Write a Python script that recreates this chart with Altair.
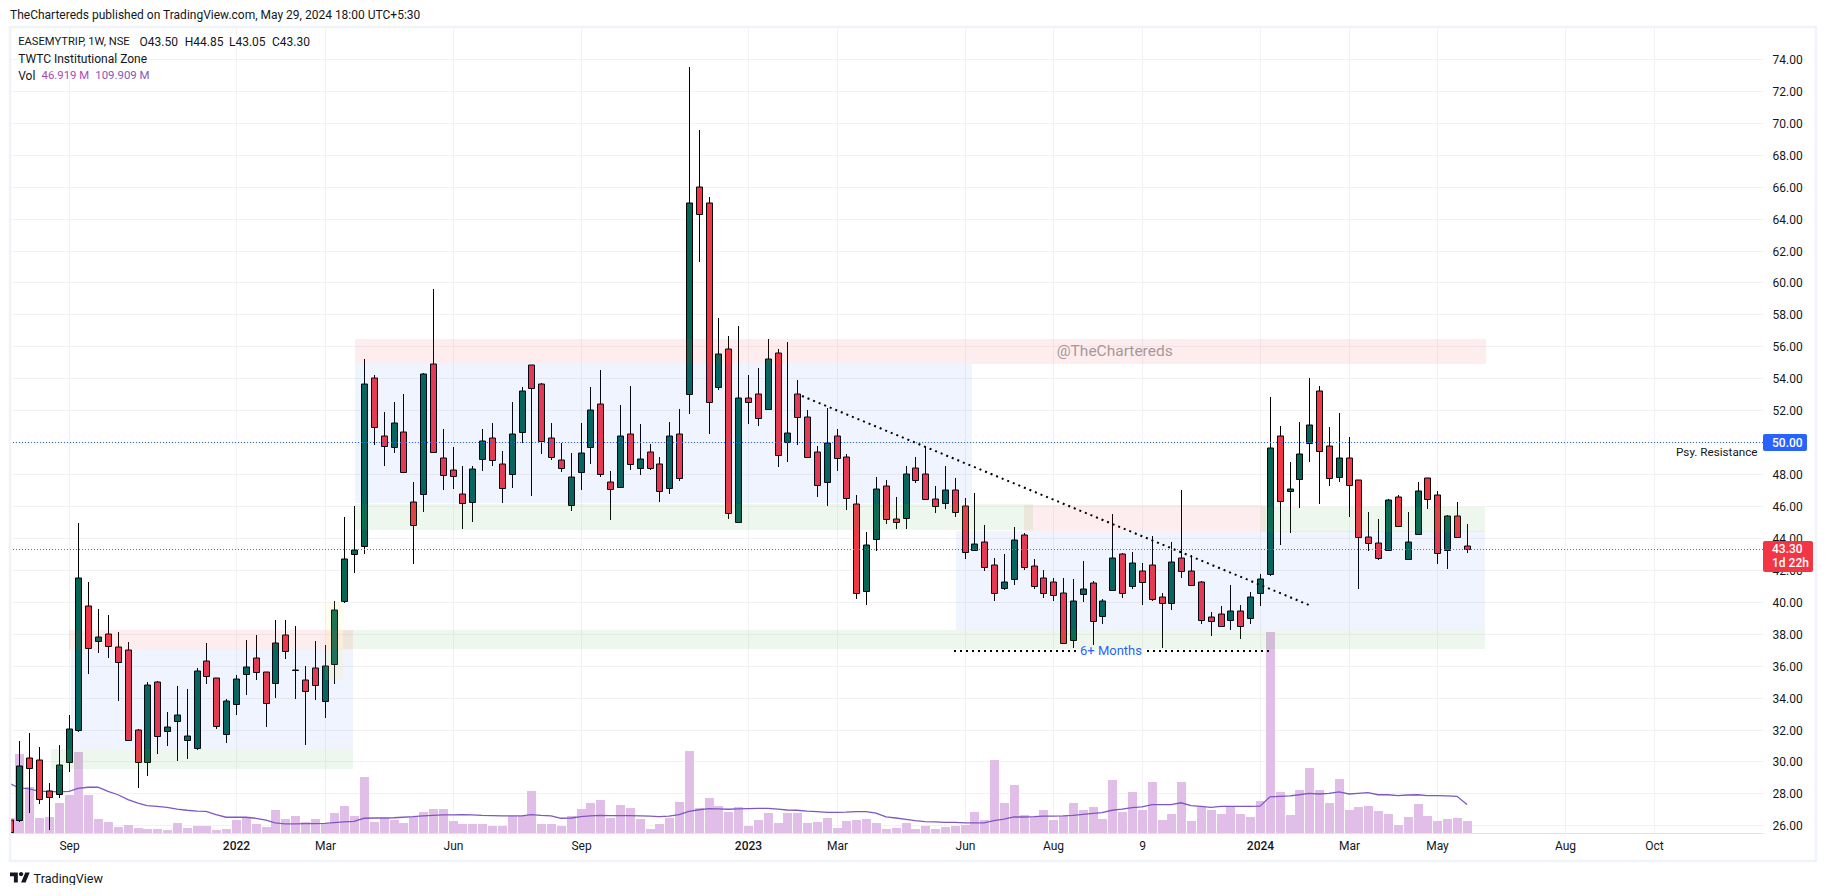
import pandas as pd
import altair as alt

# weekly candles
opens = [26.33,26.33,30.21,30.08,28.13,27.96,29.96,32.0,39.75,37.56,37.96,37.15,36.96,31.94,29.96,34.96,31.9,32.52,31.33,30.83,
         36.27,35.21,31.71,33.58,35.46,36.46,35.58,34.9,37.9,35.72,35.08,35.83,33.77,36.08,40.08,43.0,43.5,54.02,50.4,49.7,
         50.65,46.27,46.77,54.9,49.02,48.27,46.77,46.25,48.94,50.25,48.65,48.0,50.63,54.83,53.65,50.27,48.9,46.06,48.15,49.67,
         52.4,47.52,47.2,50.5,48.38,49.38,48.63,47.13,50.5,53.0,66.0,65.0,53.48,55.81,45.02,52.75,53.0,52.06,55.6,49.98,
         53.0,51.56,49.38,47.5,50.38,49.06,46.15,40.67,43.94,47.27,45.21,45.25,48.38,48.0,46.44,46.21,47.02,46.02,43.27,43.77,
         42.33,40.88,41.44,44.21,42.27,41.52,41.21,40.58,37.58,40.46,41.15,39.08,40.71,43.02,41.02,41.96,42.33,40.27,39.9,42.77,
         41.9,41.27,39.05,39.21,38.88,39.45,39.0,40.52,41.71,50.4,46.95,47.69,49.95,53.2,49.78,47.81,49.02,47.64,44.08,43.7,
         43.23,46.57,42.7,44.27,47.76,46.72,43.23,45.39,43.5]
highs = [26.4,31.29,31.79,30.92,28.63,31.02,32.9,44.92,41.23,39.52,39.2,38.1,37.46,32.06,34.98,35.02,33.1,34.73,34.54,35.85,
         37.42,35.21,33.9,35.4,37.6,37.92,35.6,38.85,38.85,38.48,35.96,37.52,37.27,40.04,45.33,46.02,55.21,54.2,51.9,52.54,
         53.04,47.48,54.33,59.58,50.8,49.67,48.5,48.5,50.83,51.2,49.42,52.52,53.46,54.83,53.7,51.2,49.96,49.35,51.17,53.46,
         54.54,48.17,52.33,53.52,51.15,49.9,49.06,51.25,52.06,73.52,69.52,65.33,57.77,56.65,57.27,54.2,54.67,56.46,55.83,56.27,
         53.9,52.02,49.77,52.13,50.83,49.25,46.71,44.38,47.79,47.65,46.54,48.48,49.1,49.77,47.25,48.52,47.77,46.52,46.83,44.83,
         42.77,43.02,44.71,44.33,42.65,42.02,41.52,41.46,41.4,42.58,41.33,40.15,45.52,43.08,43.15,42.46,44.15,40.58,43.73,47.02,
         42.96,41.33,39.33,39.73,41.04,39.8,40.59,41.71,52.8,50.99,48.74,51.23,53.99,53.53,50.92,51.85,50.35,47.64,45.6,45.2,
         46.43,46.72,45.6,47.52,47.76,46.95,45.46,46.24,44.85]
lows = [25.55,26.2,26.75,27.31,25.71,27.69,29.35,31.85,35.5,36.81,36.5,33.81,31.33,28.31,29.1,30.44,30.98,30.0,30.17,30.69,
        34.85,32.06,31.17,32.92,34.17,35.13,32.19,34.0,36.44,33.94,31.06,33.88,32.75,34.85,39.94,41.81,43.0,49.85,48.48,49.3,
        48.06,42.38,45.6,49.3,47.0,47.06,44.56,44.98,48.17,48.48,46.17,47.1,49.96,46.63,49.25,48.88,48.1,45.69,47.0,48.63,
        47.8,45.13,47.15,48.23,47.92,48.23,46.25,46.73,47.54,51.79,61.29,50.48,53.27,45.19,45.0,51.15,51.04,52.0,48.46,48.73,
        49.79,48.98,46.54,45.98,48.17,45.77,40.19,39.81,43.17,44.85,44.56,44.56,47.44,46.38,45.58,45.79,45.31,42.69,43.2,41.94,
        40.06,40.75,41.06,42.0,40.81,40.25,40.06,37.38,37.1,40.0,37.29,38.63,40.7,40.25,40.81,39.81,40.06,37.1,39.5,41.5,
        41.0,38.58,37.85,38.45,38.24,37.64,38.62,39.73,41.63,43.53,44.3,45.86,48.74,46.1,47.26,47.5,45.32,40.8,43.18,42.6,
        43.2,44.7,42.63,44.2,45.79,42.37,42.06,44.0,43.05]
closes = [25.6,29.71,29.58,27.65,27.77,29.77,32.06,41.46,37.08,37.77,37.21,36.21,31.33,29.96,34.77,31.58,32.15,32.9,31.58,35.65,
          35.33,32.21,33.77,35.15,35.9,35.58,33.65,37.4,36.9,35.72,34.4,34.77,35.96,39.46,42.65,43.27,53.65,50.96,49.75,51.2,
          48.15,44.83,54.27,49.4,47.94,47.9,46.19,48.33,50.06,48.88,47.13,50.52,53.21,53.4,50.06,49.08,48.38,47.83,49.29,52.02,
          48.02,47.08,50.38,48.62,48.94,48.38,46.94,50.38,47.75,65.0,64.31,52.5,55.5,45.58,52.75,52.5,51.5,55.19,49.19,50.56,
          51.56,49.04,47.31,49.96,49.0,46.5,40.52,43.56,47.08,45.21,45.0,48.02,47.65,46.44,46.02,47.02,45.65,43.15,43.65,42.15,
          40.52,41.27,43.9,42.21,41.02,40.52,40.4,37.4,40.08,40.83,38.77,40.02,42.77,40.58,42.4,41.27,40.15,39.9,42.52,41.9,
          41.08,38.83,38.8,38.5,39.45,38.5,40.33,41.4,49.64,46.34,47.07,49.26,51.09,49.45,47.76,49.02,47.33,44.08,43.7,42.75,
          46.38,44.75,43.77,46.95,46.46,43.08,45.39,44.06,43.3]

# volume and its average, in millions
volumes = [58,306,177,58,62,116,147,313,147,54,43,25,31,19,15,15,12,39,19,27,
           27,12,15,50,62,35,23,89,54,66,43,54,35,77,104,66,217,43,58,50,
           39,62,81,93,93,46,35,35,35,27,27,66,66,163,35,35,27,66,93,116,
           128,58,108,97,54,15,35,58,120,317,97,135,104,83,101,27,50,77,39,77,
           77,39,43,58,19,46,50,54,39,15,19,39,15,27,15,23,27,31,81,50,
           283,116,186,70,62,89,50,66,116,89,101,54,205,81,159,89,197,50,74,197,
           46,100,90,75,100,75,63,125,779,160,71,167,253,167,118,210,90,101,106,87,
           75,32,63,113,66,47,56,59,46.9]
vol_ma = [191,174,172,161,161,159,161,173,177,177,161,148,129,116,106,103,99,92,88,85,
          84,71,61,61,61,57,50,39,35,35,36,36,37,40,43,45,57,58,58,59,
          61,63,66,68,70,70,71,70,68,67,66,66,66,71,68,66,57,58,63,66,
          68,67,67,67,66,65,63,65,71,84,90,94,93,92,93,94,95,95,92,89,
          88,85,83,80,80,81,83,83,77,62,58,53,48,44,43,41,41,39,39,39,
          48,54,62,62,63,65,65,66,68,72,76,79,88,92,98,101,110,110,110,117,
          106,103,99,103,103,103,103,104,140,142,144,148,153,151,153,159,151,153,156,148,
          148,145,147,148,145,145,144,142,109.9]

bars = pd.DataFrame({"i": range(len(opens)), "o": opens, "h": highs, "l": lows, "c": closes,
                     "vol": volumes, "ma": vol_ma})
bars["colour"] = ["#f23645" if c < o else "#056656" for o, c in zip(opens, closes)]
bars["top"] = bars[["o", "c"]].max(axis=1)
bars["bot"] = bars[["o", "c"]].min(axis=1)

# axis labels sit on bar numbers
month_labels = ["Sep", "2022", "Mar", "Jun", "Sep", "2023", "Mar", "Jun", "Aug", "9", "2024", "Mar", "May", "Aug", "Oct"]
month_pos = [6, 23, 32, 45, 58, 75, 84, 97, 106, 115, 127, 136, 145, 158, 167]
year_pos = [23, 75, 127]
price_ticks = list(range(26, 76, 2))

# drawn zones: colour, strength, start bar, end bar, bottom price, top price
zones = pd.DataFrame(
    [
        ("#2962ff", 0.07, 6.25, 34.85, 30.75, 37.0),
        ("#2962ff", 0.07, 35.1, 97.8, 46.17, 54.88),
        ("#2962ff", 0.07, 96.1, 149.9, 38.25, 44.42),
        ("#f23645", 0.09, 6.0, 34.85, 37.0, 38.23),
        ("#f23645", 0.09, 35.1, 149.96, 54.88, 56.46),
        ("#f23645", 0.09, 103.0, 127.6, 44.42, 46.08),
        ("#4caf50", 0.1, 4.25, 34.85, 29.5, 30.75),
        ("#4caf50", 0.1, 33.9, 149.9, 37.02, 38.25),
        ("#4caf50", 0.1, 35.1, 103.95, 44.5, 46.12),
        ("#4caf50", 0.1, 127.1, 149.9, 44.37, 45.96),
        ("#ffeb3b", 0.1, 32.08, 33.9, 35.08, 40.04),
    ],
    columns=["colour", "alpha", "x0", "x1", "y0", "y1"],
)

# dotted trendline and the 6+ months base
dots = pd.DataFrame(
    [
        (80.46, 131.95, 52.9, 39.8),
        (95.9, 108.3, 36.92, 36.92),
        (115.5, 127.9, 36.92, 36.92),
    ],
    columns=["x0", "x1", "y0", "y1"],
)
level_lines = pd.DataFrame({"y": [50.0, 43.3], "colour": ["#2962ff", "#f23645"]})

# price tags on the axis
tags = pd.DataFrame(
    [
        ("#2962ff", 178.09, 182.56, 49.46, 50.5),
        ("#f23645", 178.09, 183.17, 41.87, 43.82),
    ],
    columns=["colour", "x0", "x1", "y0", "y1"],
)
frame = pd.DataFrame({"x0": [0.0], "x1": [183.47], "y0": [23.78], "y1": [76.0]})

ink = "#131722"
# text, left edge, middle, colour, size, all in pixels from the plot corner
notes = pd.DataFrame(
    [
        ("TheChartereds published on TradingView.com, May 29, 2024 18:00 UTC+5:30", 0, -12.3, ink, 12),
        ("EASEMYTRIP, 1W, NSE", 8.2, 14.7, ink, 11.2),
        ("O43.50", 129.6, 14.7, ink, 12),
        ("H44.85", 174.7, 14.7, ink, 12),
        ("L43.05", 219, 14.7, ink, 12),
        ("C43.30", 262, 14.7, ink, 12),
        ("TWTC Institutional Zone", 8.2, 32, ink, 12),
        ("Vol", 8.2, 49, ink, 12),
        ("46.919 M", 31.5, 49, "#ab47bc", 11.4),
        ("109.909 M", 85.3, 49, "#7e57c2", 11.4),
        ("@TheChartereds", 1046.7, 324, "#a89699", 15.5),
        ("Psy. Resistance", 1666, 424.9, ink, 11.7),
        ("6+ Months", 1070, 624, "#2962ff", 13),
        ("TradingView", 23.6, 851.7, ink, 12.6),
    ],
    columns=["text", "px", "py", "colour", "size"],
)
tag_notes = pd.DataFrame(
    [("50.00", 1762, 415.5), ("43.30", 1762, 522.4), ("1d 22h", 1762, 536)],
    columns=["text", "px", "py"],
)

x_scale = alt.Scale(domain=[0.046, 178.09], nice=False, zero=False, padding=0, round=True)
price_scale = alt.Scale(domain=[25.52, 76.0], nice=False, zero=False, padding=0, round=True)
vol_scale = alt.Scale(domain=[0, 3119], nice=False, zero=False, padding=0, round=True)
ma_scale = alt.Scale(domain=[0, 3119], nice=False, zero=False, padding=0)
grid_colour = "#f2f2f4"

label_expr = "''"
for p, t in zip(month_pos, month_labels):
    label_expr = f"datum.value == {p} ? '{t}' : ({label_expr})"
year_test = " || ".join(f"datum.value == {p}" for p in year_pos)

x_axis = alt.Axis(
    values=month_pos,
    labelExpr=label_expr,
    grid=True,
    gridColor=grid_colour,
    ticks=False,
    domainColor="#e0e3eb",
    labelColor=ink,
    labelFont="Roboto",
    labelFontSize=12,
    labelPadding=7,
    labelOverlap=False,
    labelFontWeight=alt.condition(year_test, alt.value(500), alt.value(400)),
)


def bar_x(field="i"):
    return alt.X(f"{field}:Q", scale=x_scale, axis=x_axis, title=None)


def price(field):
    return alt.Y(f"{field}:Q", scale=price_scale, axis=None, title=None)


axes = alt.Chart(pd.DataFrame({"i": month_pos, "p": price_ticks[:len(month_pos)]})).mark_point(opacity=0).encode(
    x=bar_x(),
    y=alt.Y(
        "p:Q",
        scale=price_scale,
        title=None,
        axis=alt.Axis(
            orient="right",
            values=price_ticks,
            format=".2f",
            grid=True,
            gridColor=grid_colour,
            ticks=False,
            domain=False,
            labelColor=ink,
            labelFont="Roboto",
            labelFontSize=12,
            labelPadding=9,
            labelOverlap=False,
        ),
    ),
)

vol_bars = alt.Chart(bars).mark_bar(color="#e1bee7", size=9, orient="vertical", clip=True, xOffset=0.5).encode(
    x=bar_x(),
    y=alt.Y("vol:Q", scale=vol_scale, axis=None, stack=None),
)
vol_line = alt.Chart(bars).mark_line(color="#7e57c2", strokeWidth=1.3, clip=True).encode(
    x=bar_x(),
    y=alt.Y("ma:Q", scale=ma_scale, axis=None),
)

# half pixel offsets keep the one pixel strokes sharp
wicks = alt.Chart(bars).mark_rule(color="#000000", strokeWidth=1, clip=True, xOffset=0.5).encode(
    x=bar_x(), y=price("l"), y2="h:Q"
)
bodies = alt.Chart(bars).mark_bar(
    size=6, stroke="#000000", strokeWidth=1, orient="vertical", clip=True, xOffset=0.5, yOffset=0.5
).encode(
    x=bar_x(),
    y=price("bot"),
    y2="top:Q",
    fill=alt.Fill("colour:N", scale=None),
)

zone_rects = alt.Chart(zones).mark_rect().encode(
    x=bar_x("x0"), x2="x1:Q", y=price("y0"), y2="y1:Q",
    fill=alt.Fill("colour:N", scale=None),
    opacity=alt.Opacity("alpha:Q", scale=None),
)
levels = alt.Chart(level_lines).mark_rule(strokeWidth=1, strokeDash=[1, 2], yOffset=0.5).encode(
    y=price("y"), color=alt.Color("colour:N", scale=None)
)
dotted = alt.Chart(dots).mark_rule(color="#000000", strokeWidth=2, strokeDash=[2, 4]).encode(
    x=bar_x("x0"), x2="x1:Q", y=price("y0"), y2="y1:Q"
)
frame_box = alt.Chart(frame).mark_rect(fillOpacity=0, stroke="#f0f3fa", strokeWidth=2.5).encode(
    x=bar_x("x0"), x2="x1:Q", y=price("y0"), y2="y1:Q"
)
tag_rects = alt.Chart(tags).mark_rect(cornerRadius=2).encode(
    x=bar_x("x0"), x2="x1:Q", y=price("y0"), y2="y1:Q",
    fill=alt.Fill("colour:N", scale=None),
)
note_text = alt.Chart(notes).mark_text(align="left", baseline="middle", font="Roboto").encode(
    x=alt.X("px:Q", scale=None, axis=None),
    y=alt.Y("py:Q", scale=None, axis=None),
    text="text:N",
    color=alt.Color("colour:N", scale=None),
    size=alt.Size("size:Q", scale=None),
)
tag_text = alt.Chart(tag_notes).mark_text(
    align="left", baseline="middle", font="Roboto", fontSize=12, fontWeight=500, color="#ffffff"
).encode(
    x=alt.X("px:Q", scale=None, axis=None),
    y=alt.Y("py:Q", scale=None, axis=None),
    text="text:N",
)

# TradingView mark at the bottom left
logo_path = (
    "M-0.22 0.44H-0.61V-0.17H-1V-0.56H-0.22Z M0.56 0.44H0.11L0.53 -0.56H0.97Z "
    "M0.33 -0.39A0.22 0.22 0 1 1 -0.11 -0.39A0.22 0.22 0 1 1 0.33 -0.39Z"
)
logo = alt.Chart(pd.DataFrame({"px": [10], "py": [851]})).mark_point(
    shape=logo_path, size=400, filled=True, color=ink, opacity=1
).encode(
    x=alt.X("px:Q", scale=None, axis=None),
    y=alt.Y("py:Q", scale=None, axis=None),
)

chart = (
    alt.layer(axes, vol_bars, vol_line, wicks, bodies, zone_rects, levels, dotted, frame_box, tag_rects,
              note_text, tag_text, logo)
    .resolve_scale(y="independent")
    .properties(
        width=1753,
        height=806,
        autosize=alt.AutoSizeParams(type="none"),
        padding={"left": 2, "top": 19, "right": 56, "bottom": 52},
    )
    .configure_view(strokeWidth=0)
)

chart.save("out.html", embed_options={"renderer": "svg", "actions": False})
